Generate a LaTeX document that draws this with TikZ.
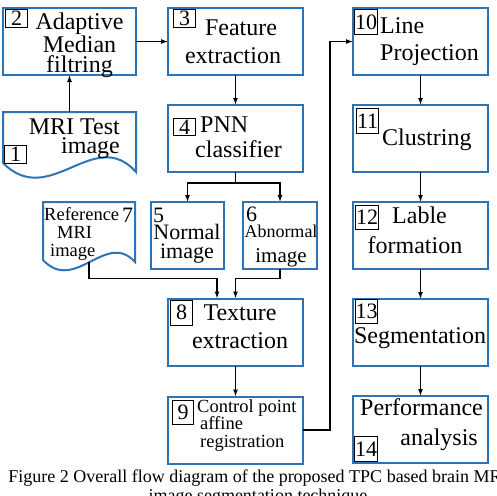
\documentclass[tikz,border=0pt]{standalone}
\usepackage{fontspec}
\setmainfont{Liberation Serif}
\usetikzlibrary{positioning, calc}
\usetikzlibrary{arrows.meta}
\definecolor{boxblue}{RGB}{46,116,181}
\tikzstyle{stepbox}=[rectangle,line width=2pt,draw=boxblue,minimum width=135pt,
minimum height=67pt,inner sep=0pt,outer sep=0pt]
\tikzstyle{smallbox}=[stepbox,minimum width=73pt]
\tikzstyle{docbox}=[rectangle,draw=none,inner sep=0pt,outer sep=0pt]
\tikzstyle{docline}=[line width=2pt,draw=boxblue]
\tikzstyle{tagbox}=[rectangle,draw=black,line width=1.2pt,inner sep=0pt,
minimum width=22pt,minimum height=18pt,font=\fontsize{22}{22}\selectfont,
anchor=north west]
\tikzstyle{numtext}=[inner sep=0pt,font=\fontsize{22}{22}\selectfont,
anchor=base west]
\tikzstyle{textbox}=[inner sep=0pt,anchor=base,align=center,
font=\fontsize{24}{27}\selectfont]
\tikzstyle{edgepath} = [-{Latex[length=7pt,width=5pt]},line width=1.3pt]

\begin{document}
\begin{tikzpicture}[x=1pt,y=-1pt,node distance=30pt]
    \path[use as bounding box, clip] (0,0) rectangle (496,496);

    % boxes
    \node[stepbox, minimum width=133pt] (b2) at (69.5,41.5) {};
    \node[stepbox, right=32pt of b2] (b3) {};
    \node[stepbox, below=of b3] (b4) {};
    \node[stepbox, right=50pt of b3] (b10) {};
    \node[stepbox, below=of b10] (b11) {};
    \node[stepbox, below=of b11] (b12) {};
    \node[stepbox, below=of b12] (b13) {};
    \node[stepbox, below=of b13] (b14) {};
    \node[smallbox] (b5) at (187.5,235.5) {};
    \node[smallbox, minimum width=74pt] (b6) at (280,235.5) {};
    \node[stepbox] (b8) at (235.5,332) {};
    \node[stepbox, below=31pt of b8] (b9) {};
    \node[docbox, minimum width=133pt, minimum height=60pt] (d1) at (69.5,142) {};
    \node[docbox, minimum width=92pt, minimum height=60pt] (d7) at (89,232) {};

    \draw[docline] (d1.north west) -- (d1.north east) -- (d1.south east)
        .. controls +(-42,-47) and +(47,47) .. ([yshift=9pt]d1.south west) -- cycle;
    \draw[docline] (d7.north west) -- (d7.north east) -- (d7.south east)
        .. controls +(-29,-32) and +(32,34) .. ([yshift=2pt]d7.south west) -- cycle;

    % texts
    \node[textbox, font=\fontsize{24}{20}\selectfont] (t2) at (79.5,72) {Adaptive\\Median\\filtring};
    \node[textbox, font=\fontsize{24}{28}\selectfont] (t3) at (233,63) {\hspace*{16pt}Feature\\extraction};
    \node[textbox, align=left, anchor=base west, font=\fontsize{24}{25}\selectfont] (t4) at (195,157) {\hspace*{5pt}PNN\\classifier};
    \node[textbox, align=right, anchor=base east, font=\fontsize{24}{19}\selectfont] (t1) at (120,153) {MRI Test\\image};
    \node[textbox, align=left, anchor=base west] (t10) at (380,60) {Line\\Projection};
    \node[textbox, anchor=base west] (t11) at (382,145) {Clustring};
    \node[textbox, font=\fontsize{24}{30}\selectfont] (t12) at (415,253) {\hspace*{9pt}Lable\\formation};
    \node[textbox] (t13) at (420,343) {Segmentation};
    \node[textbox, align=right, anchor=base east, font=\fontsize{24}{30}\selectfont] (t14) at (483,445) {Performance\\analysis\hspace*{5pt}};
    \node[textbox, font=\fontsize{24}{28}\selectfont] (t8) at (240,348) {Texture\\extraction};
    \node[textbox, align=left, anchor=base west, font=\fontsize{18.5}{17.5}\selectfont] (t9) at (197,447) {Control point\\\hspace*{3pt}affine\\\hspace*{3pt}registration};
    \node[textbox, font=\fontsize{22}{19}\selectfont] (t5) at (187,258) {Normal\\image};
    \node[textbox, font=\fontsize{21}{25}\selectfont] (t6) at (281,262) {{\fontsize{18}{25}\selectfont Abnormal}\\image};
    \node[textbox, align=left, anchor=base west, font=\fontsize{18.5}{18}\selectfont] (t7) at (44,256) {Reference\\\hspace*{13pt}MRI\\\hspace*{6pt}image};

    % step numbers
    \node[tagbox] (n1) at ([shift={(1,33)}]d1.north west) {1};
    \node[tagbox] (n2) at ([shift={(2,1)}]b2.north west) {2};
    \node[tagbox] (n3) at ([shift={(5,1)}]b3.north west) {3};
    \node[tagbox, minimum height=17pt] (n4) at ([shift={(5,13)}]b4.north west) {4};
    \node[numtext] (n5) at (153,222) {5};
    \node[numtext] (n6) at (246,221) {6};
    \node[numtext] (n7) at (122,222) {7};
    \node[tagbox, minimum height=25pt] (n8) at ([shift={(2,1)}]b8.north west) {8};
    \node[tagbox, minimum width=21pt, minimum height=24pt] (n9) at ([shift={(4,3)}]b9.north west) {9};
    \node[tagbox, minimum width=23pt, minimum height=25pt] (n10) at ([shift={(1,1)}]b10.north west) {10};
    \node[tagbox, minimum height=25pt] (n11) at ([shift={(3,3)}]b11.north west) {11};
    \node[tagbox, minimum width=23pt, minimum height=24pt] (n12) at ([shift={(2,3)}]b12.north west) {12};
    \node[tagbox, minimum height=24pt] (n13) at ([shift={(2,0)}]b13.north west) {13};
    \node[tagbox, minimum width=23pt, minimum height=25pt, anchor=south west] (n14) at ([shift={(1,-1)}]b14.south west) {14};

    % connectors
    \path[edgepath]
        (d1) edge (b2)
        (b2) edge (b3)
        (b3) edge (b4)
        (b8) edge (b9)
        (b10) edge (b11)
        (b11) edge (b12)
        (b12) edge (b13)
        (b13) edge (b14);
    \coordinate (fork) at ([yshift=-11pt]b4.south);
    \coordinate (merge) at ([yshift=20pt]b8.north);
    \draw[line width=1.3pt] (b4.south) -- (fork);
    \draw[edgepath] (fork) -| (b5.north);
    \draw[edgepath] (fork) -| (b6.north);
    \draw[edgepath] (d7.south) |- ([xshift=-18.5pt]merge) -- ([xshift=-18.5pt]b8.north);
    \draw[edgepath] (b6.south) |- (merge) -- (b8.north);
    \draw[edgepath] (b9.east) -- ++(27,0) |- (b10.west);

    % caption
    \node[textbox, font=\fontsize{18}{19}\selectfont] (cap) at (258,501) {Figure 2 Overall flow diagram of the proposed TPC based brain MRI\\image segmentation technique};
\end{tikzpicture}
\end{document}
